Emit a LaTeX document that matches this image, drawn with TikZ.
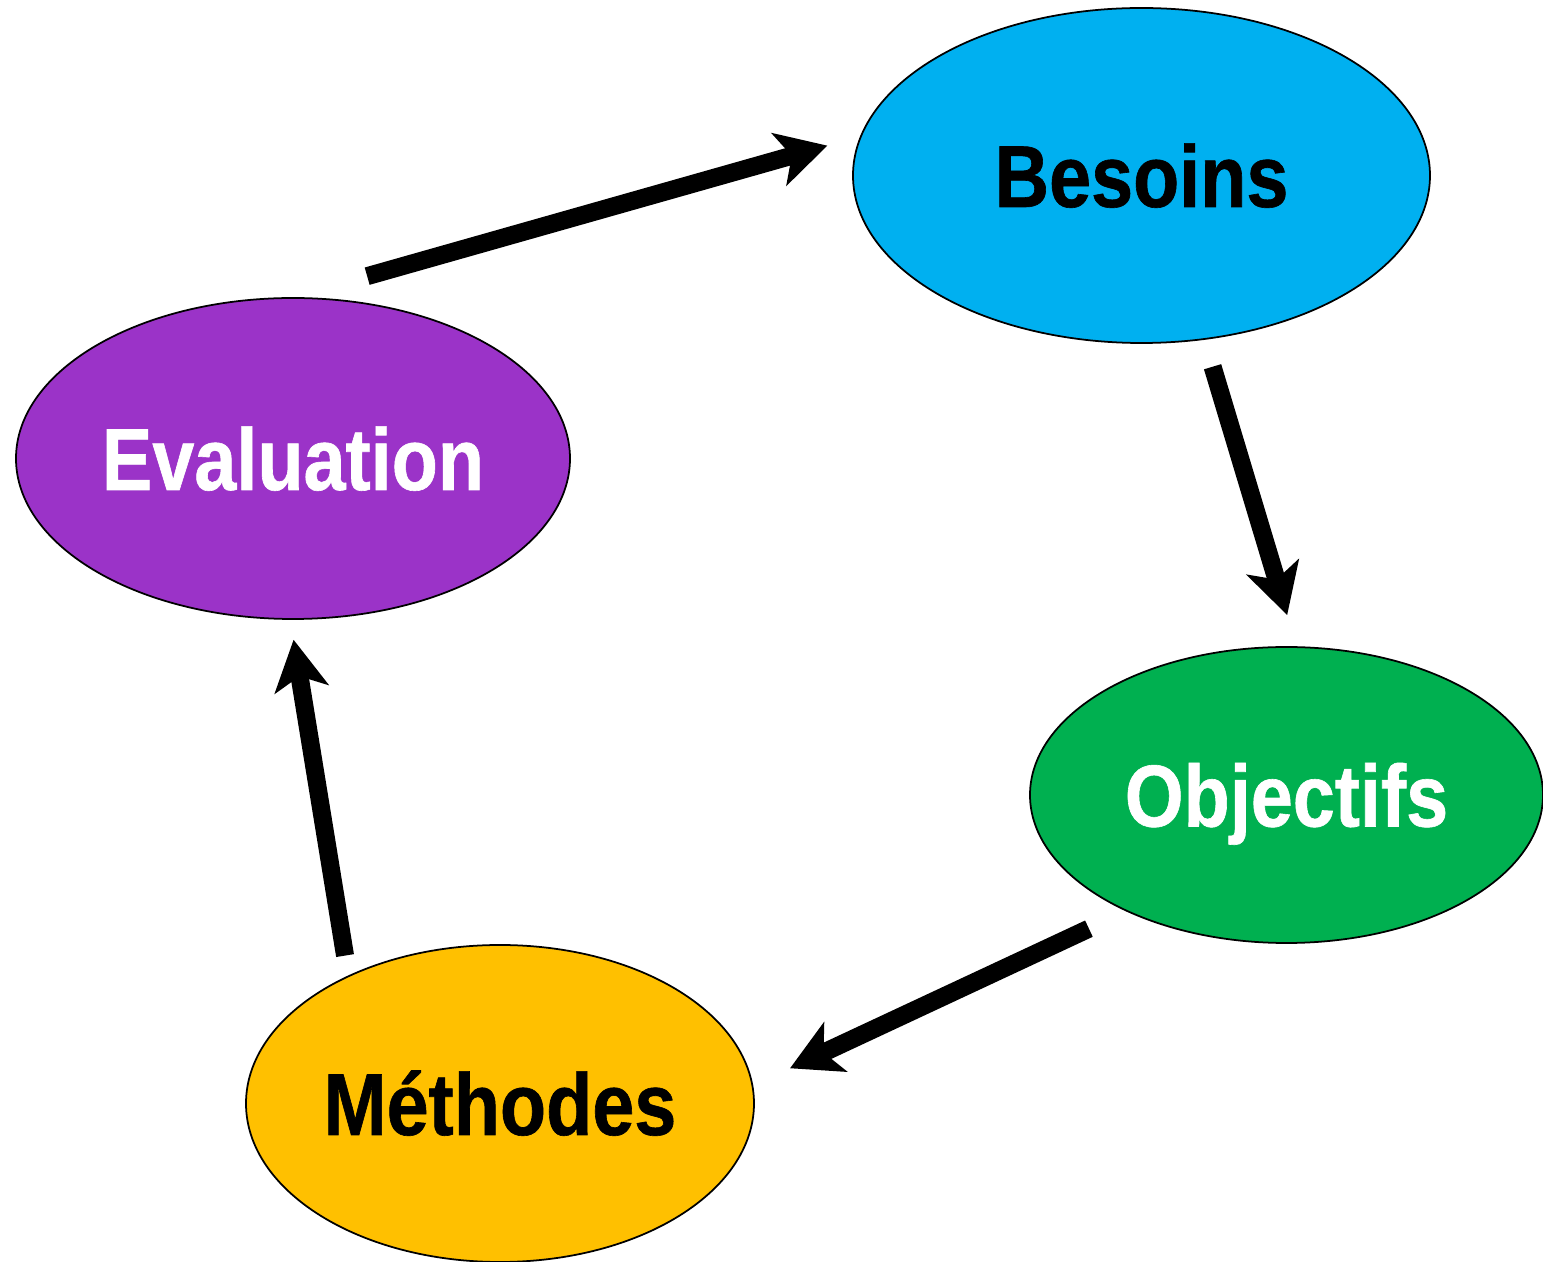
\documentclass[tikz,border=0pt]{standalone}
\usepackage{fontspec}
\usepackage{tikz}
\usetikzlibrary{arrows.meta,shapes.geometric}
\newfontfamily\lblfont[FakeStretch=0.86,FakeBold=0.7]{Liberation Sans}
\definecolor{besoinscol}{RGB}{0,176,240}
\definecolor{evalcol}{RGB}{155,51,200}
\definecolor{objcol}{RGB}{0,176,80}
\definecolor{methcol}{RGB}{255,192,0}

\begin{document}
\begin{tikzpicture}[
	etape/.style={ellipse,draw=black,line width=0.5pt,inner sep=0pt,outer sep=0pt,
		text height=0.63cm,text depth=0cm,font=\lblfont\bfseries\fontsize{25}{30}\selectfont},
	fleche/.style={line width=0.18cm,-{Stealth[length=0.5cm,width=0.54cm,inset=0.13cm]}}]
		\useasboundingbox (0,0) rectangle (15.43,-12.62);
		\node[etape,fill=besoinscol,text=black,minimum width=5.77cm,minimum height=3.35cm] (bes) at (11.415,-1.755) {Besoins};
		\node[etape,fill=evalcol,text=white,minimum width=5.54cm,minimum height=3.21cm] (evl) at (2.93,-4.585) {Evaluation};
		\node[etape,fill=objcol,text=white,minimum width=5.13cm,minimum height=2.96cm] (obj) at (12.865,-7.95) {Objectifs};
		\node[etape,fill=methcol,text=black,minimum width=5.08cm,minimum height=3.17cm] (met) at (5.00,-11.035) {Méthodes};

		\draw[fleche,shorten <=0.80cm,shorten >=0.35cm] (evl.91) -- (bes.172);
		\draw[fleche,shorten <=0.29cm,shorten >=0.335cm] (bes.291) -- (obj.86);
		\draw[fleche,shorten <=0.42cm,shorten >=0.415cm] (obj.216) -- (met.4);
		\draw[fleche,shorten <=0.21cm,shorten >=0.21cm] (met.140) -- (evl.269.5);
\end{tikzpicture}
\end{document}
